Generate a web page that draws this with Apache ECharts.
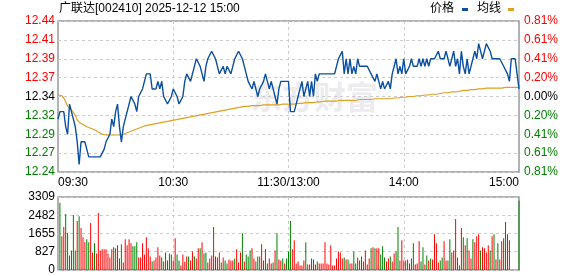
<!DOCTYPE html>
<html><head><meta charset="utf-8">
<script src="https://cdn.jsdelivr.net/npm/echarts@6/dist/echarts.min.js"></script>
<style>html,body{margin:0;padding:0;background:#fff}#c{width:578px;height:276px}</style>
</head><body><div id="c"></div>
<script>
const prevClose = 12.34;
const priceTickLabels = ['12.24','12.27','12.29','12.32','12.34','12.37','12.39','12.41','12.44'];
const pctTickLabels = ['0.81%','0.61%','0.41%','0.20%','0.00%','0.20%','0.41%','0.61%','0.81%'];
const volTickLabels = ['0','827','1655','2482','3309'];
const xTickLabels = {0:'09:30',60:'10:30',120:'11:30/13:00',180:'14:00',240:'15:00'};

const price = [
12.31,12.32,12.32,12.32,12.30,12.29,12.33,12.32,12.31,12.30,
12.28,12.25,12.28,12.28,12.28,12.27,12.26,12.26,12.26,12.26,
12.26,12.26,12.26,12.26,12.27,12.28,12.28,12.29,12.31,12.30,
12.32,12.33,12.30,12.28,12.30,12.31,12.32,12.33,12.34,12.34,
12.33,12.32,12.34,12.34,12.35,12.36,12.37,12.37,12.37,12.35,
12.35,12.35,12.36,12.35,12.36,12.34,12.34,12.33,12.33,12.34,
12.35,12.35,12.34,12.33,12.33,12.34,12.36,12.37,12.37,12.36,
12.37,12.38,12.39,12.39,12.38,12.37,12.36,12.38,12.39,12.39,
12.40,12.40,12.39,12.38,12.37,12.37,12.38,12.37,12.38,12.38,
12.37,12.38,12.39,12.39,12.40,12.40,12.39,12.38,12.37,12.36,
12.36,12.35,12.36,12.35,12.34,12.35,12.35,12.36,12.37,12.36,
12.35,12.36,12.35,12.34,12.33,12.35,12.36,12.36,12.36,12.36,
12.36,
12.32,12.32,12.32,12.33,12.34,12.35,12.36,12.34,12.35,12.36,
12.34,12.36,12.34,12.37,12.36,12.37,12.37,12.37,12.37,12.37,
12.37,12.37,12.37,12.37,12.37,12.39,12.39,12.40,12.37,12.39,
12.37,12.39,12.37,12.38,12.37,12.39,12.38,12.38,12.38,12.38,
12.38,12.38,12.37,12.37,12.36,12.37,12.36,12.35,12.36,12.35,
12.35,12.36,12.35,12.37,12.38,12.39,12.37,12.38,12.37,12.39,
12.37,12.37,12.38,12.39,12.38,12.38,12.38,12.39,12.38,12.39,
12.38,12.39,12.38,12.39,12.39,12.39,12.39,12.40,12.39,12.39,
12.39,12.40,12.39,12.38,12.38,12.40,12.38,12.39,12.37,12.40,
12.38,12.37,12.39,12.37,12.38,12.39,12.40,12.39,12.41,12.40,
12.39,12.40,12.41,12.41,12.40,12.39,12.39,12.39,12.39,12.39,
12.39,12.38,12.38,12.37,12.36,12.39,12.39,12.39,12.37,12.35
];

const avgPrice = [
12.342,12.342,12.341,12.338,
12.333,12.327,12.325,12.322,12.319,12.315,12.309,12.306,12.304,12.303,12.302,12.300,12.299,12.298,12.297,12.296,12.295,12.293,12.291,12.290,
12.289,12.289,12.289,12.289,12.289,12.289,12.289,12.289,12.289,12.289,
12.290,12.291,12.292,12.293,12.294,12.295,12.296,12.297,12.298,12.299,12.300,12.301,12.301,12.302,
12.303,12.303,12.304,12.304,12.305,12.305,12.306,12.306,12.307,12.307,12.308,12.308,12.309,
12.309,12.310,12.310,12.311,12.311,12.311,12.312,12.312,12.313,12.313,12.314,12.314,12.315,12.315,12.316,12.316,
12.317,12.317,12.318,12.318,12.319,12.319,12.320,12.320,12.321,
12.321,12.322,12.322,12.323,12.323,12.324,12.324,12.325,12.325,12.326,12.326,
12.327,12.327,12.327,12.327,
12.328,12.328,12.328,12.328,12.328,
12.329,12.329,12.329,12.329,12.329,12.329,12.329,12.329,12.329,12.329,12.329,
12.330,12.330,12.330,12.330,12.330,12.330,12.330,
12.331,12.331,12.331,12.331,12.331,
12.332,12.332,12.332,12.332,12.332,
12.333,12.333,12.333,12.333,12.333,
12.334,12.334,12.334,12.334,12.334,12.334,12.334,12.334,
12.335,12.335,12.335,12.335,12.335,12.335,12.335,12.335,12.335,
12.336,12.336,12.336,12.336,12.336,12.336,12.336,12.336,12.336,
12.337,12.337,12.337,12.337,12.337,12.337,12.337,12.337,12.337,
12.338,12.338,12.338,12.338,
12.339,12.339,12.339,12.339,
12.340,12.340,12.340,12.340,12.340,
12.341,12.341,12.341,12.341,
12.342,12.342,12.342,
12.343,12.343,12.343,12.343,
12.344,12.344,12.344,
12.345,12.345,12.345,12.345,
12.346,12.346,12.346,
12.347,12.347,12.347,
12.348,12.348,12.348,12.348,
12.349,12.349,12.349,
12.350,12.350,12.350,12.350,
12.351,12.351,12.351,12.351,12.351,12.351,12.351,12.351,12.351,12.351,12.351,
12.352,12.352,12.352,12.352,12.352,12.352,12.352,12.352
];

const volume = [
0,
3049,1532,1946,2543,1685,659,889,2497,889,2221,
2436,1900,1486,1256,1394,1256,2129,797,1210,751,
2589,889,935,935,935,751,567,935,1026,981,
1118,521,1164,337,1394,1118,1394,1210,1072,1072,
1256,567,567,1210,705,1486,981,613,383,429,
567,1026,659,567,383,797,429,751,705,429,
1440,705,429,199,705,383,613,613,429,843,
613,521,981,981,1256,751,797,337,521,659,
1946,613,567,797,337,567,429,291,475,429,
429,521,935,337,797,1670,383,705,613,889,
981,521,383,613,613,1164,429,935,291,521,
291,337,889,1670,475,429,521,291,521,843,
2221,935,1348,291,383,199,199,429,1256,245,
245,521,475,245,383,291,291,291,1256,291,
245,1118,199,199,521,843,797,521,567,475,
475,291,291,843,291,567,429,613,383,889,
245,521,981,1026,981,981,981,705,1072,567,
383,521,613,383,751,843,1946,429,1348,429,
429,475,291,521,1210,245,291,1302,383,1026,
245,659,429,521,475,1624,1210,337,429,567,
1302,429,429,1394,797,889,2313,567,199,1900,
1486,1118,1440,889,521,1394,1256,1532,1624,889,
1026,981,797,1118,889,1532,1624,475,1210,475,
1302,1440,2175,1624,1348,
0,0,0,0,
3140
];

const volDir = "R" +
"GRRGGRGGGR" + "GRRRGGRRGR" + "RRRRRRRRGR" + "RGGRRRRRGG" + "GRRRRRRRGR" +
"RRRGRGRGGR" + "RGGRRRRGRR" + "GRRGRGGRRR" + "RGRRGRGGRR" + "RGRRRGRGGG" +
"RRGGRRGRGR" + "RGRGRRGRGG" + "GRRRRRRRGR" + "RGRRGRRRRR" + "RRRRRRRRGR" +
"GRRGGRGGRR" + "RRGRGRRGGG" + "RRGRRGGRRR" + "GRGRGRRRGG" + "RGRGRRRRGG" +
"RRGGRRRGRR" + "GRGRRGRRRG" + "RRRRGRGRGR" + "RGRGR" + "RRRR" + "G";

// time categories
const times = [];
for (let m = 9*60+30; m <= 11*60+30; m++) times.push(String(Math.floor(m/60)).padStart(2,'0')+':'+String(m%60).padStart(2,'0'));
for (let m = 13*60+1; m <= 15*60; m++) times.push(String(Math.floor(m/60)).padStart(2,'0')+':'+String(m%60).padStart(2,'0'));

const toAxis = p => (p - prevClose) * 100;
const FONT = "'Liberation Sans','Noto Sans CJK SC',sans-serif";
const RED = '#ff0000', GREEN = '#008000';
const rich = { r:{color:RED,fontSize:12,fontFamily:FONT}, g:{color:GREEN,fontSize:12,fontFamily:FONT}, k:{color:'#000',fontSize:12,fontFamily:FONT} };
const tickIdx = v => Math.round((v + 10) / 2.5);
const styleKey = i => i > 4 ? 'r' : (i < 4 ? 'g' : 'k');
const dash = {type:[3,3], color:'#cccccc', width:1};

const chart = echarts.init(document.getElementById('c'), null, {renderer:'canvas'});
chart.setOption({
  animation:false,
  backgroundColor:'#fff',
  textStyle:{fontFamily:FONT},
  grid:[
    {left:58, right:59, top:21, height:151, show:true, borderColor:'#999', borderWidth:1.5, backgroundColor:'transparent'},
    {left:58, right:59, top:197, height:73, show:true, borderColor:'#999', borderWidth:1.5, backgroundColor:'transparent'}
  ],
  xAxis:[
    {type:'category', gridIndex:0, data:times, boundaryGap:false,
     axisLine:{show:false}, axisTick:{show:false},
     axisLabel:{interval:(i)=> (i in xTickLabels), formatter:(v,i)=> xTickLabels[i] || '', color:'#000', fontSize:12, fontFamily:FONT, margin:5, alignMinLabel:'left', alignMaxLabel:'right', showMinLabel:true, showMaxLabel:true},
     splitLine:{show:true, interval:(i)=> i>0 && i<240 && i%60===0, lineStyle:dash}},
    {type:'category', gridIndex:1, data:times, boundaryGap:false,
     axisLine:{show:false}, axisTick:{show:false}, axisLabel:{show:false},
     splitLine:{show:true, interval:(i)=> i>0 && i<240 && i%60===0, lineStyle:dash}}
  ],
  yAxis:[
    {type:'value', gridIndex:0, min:-10, max:10, interval:2.5, position:'left',
     axisLine:{show:false}, axisTick:{show:false},
     axisLabel:{margin:3, formatter:(v)=>{const i=tickIdx(v); return '{'+styleKey(i)+'|'+priceTickLabels[i]+'}';}, rich:rich},
     splitLine:{show:true, lineStyle:dash}},
    {type:'value', gridIndex:0, min:-10, max:10, interval:2.5, position:'right',
     axisLine:{show:false}, axisTick:{show:false},
     axisLabel:{margin:5, formatter:(v)=>{const i=tickIdx(v); return '{'+styleKey(i)+'|'+pctTickLabels[i]+'}';}, rich:rich},
     splitLine:{show:false}},
    {type:'value', gridIndex:1, min:0, max:3309, interval:827.25, position:'left',
     axisLine:{show:false}, axisTick:{show:false},
     axisLabel:{margin:3, color:'#000', fontSize:12, fontFamily:FONT, formatter:(v)=> volTickLabels[Math.round(v/827.25)]},
     splitLine:{show:true, lineStyle:dash}}
  ],
  series:[
    {type:'line', xAxisIndex:0, yAxisIndex:0, data:avgPrice.map(toAxis), showSymbol:false, symbol:'none',
     lineStyle:{color:'#e0a020', width:1.2}, z:3},
    {type:'line', xAxisIndex:0, yAxisIndex:0, data:price.map(toAxis), showSymbol:false, symbol:'none',
     lineStyle:{color:'#0b4fa0', width:1.4}, z:4},
    {type:'bar', xAxisIndex:1, yAxisIndex:2, barWidth:1,
     data:volume.map((v,i)=>({value:v, itemStyle:{color: volDir[i]==='G' ? GREEN : RED}})), z:3}
  ],
  graphic:[
    {type:'text', z:-10, style:{text:'东方财富', x:250, y:97, verticalAlign:'middle', fontSize:32, fontWeight:'bold', fontFamily:"'Noto Sans CJK SC'", fill:'#ececef'}},
    {type:'text', style:{text:'广联达[002410] 2025-12-12 15:00', x:59, y:9, verticalAlign:'middle', fontSize:12, fontFamily:FONT, fill:'#000'}},
    {type:'text', style:{text:'价格', x:430, y:9, verticalAlign:'middle', fontSize:12, fontFamily:FONT, fill:'#000'}},
    {type:'rect', shape:{x:462, y:8, width:6, height:3}, style:{fill:'#0b4fa0'}},
    {type:'text', style:{text:'均线', x:477, y:9, verticalAlign:'middle', fontSize:12, fontFamily:FONT, fill:'#000'}},
    {type:'rect', shape:{x:508, y:8, width:6, height:3}, style:{fill:'#e0a020'}}
  ]
});
</script></body></html>
